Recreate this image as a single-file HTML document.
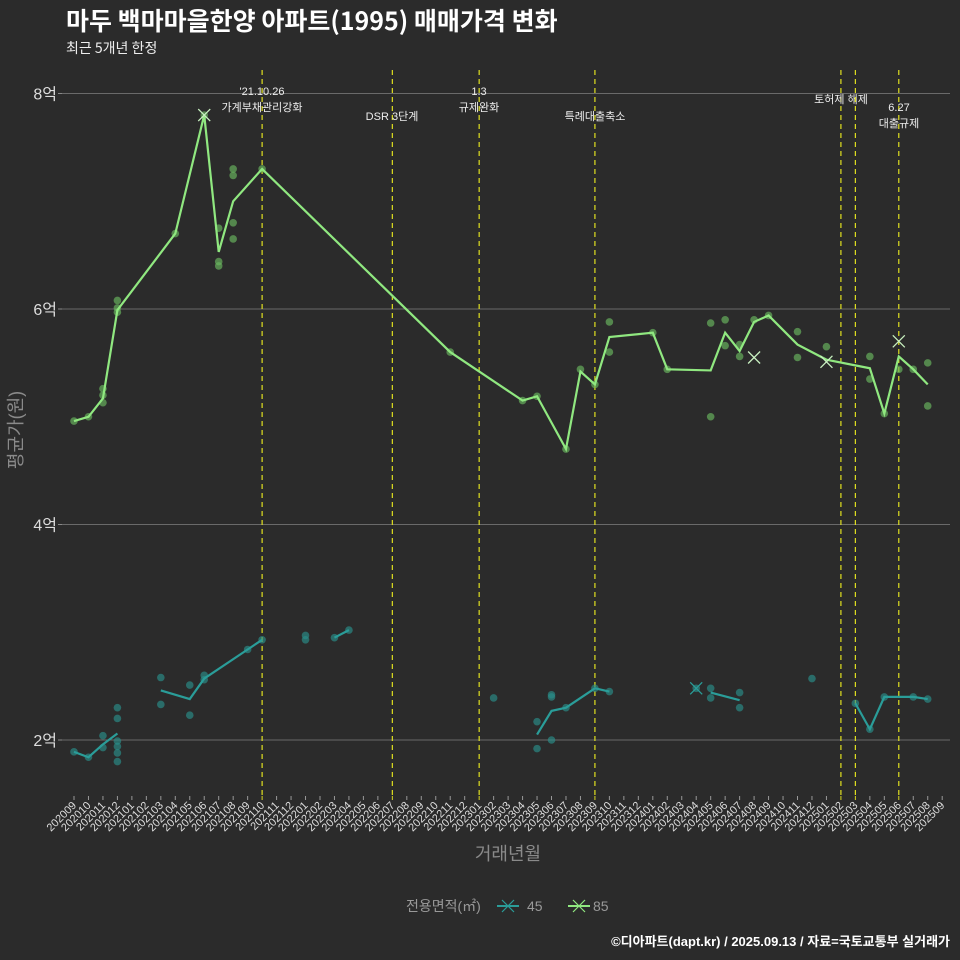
<!DOCTYPE html>
<html><head><meta charset="utf-8">
<style>
html,body{margin:0;padding:0;background:#2b2b2b;}
svg{display:block;font-family:"Liberation Sans","Noto Sans CJK KR",sans-serif;}
</style></head>
<body>
<svg id="chart" width="960" height="960" viewBox="0 0 960 960">
<rect width="960" height="960" fill="#2b2b2b"/>
<text x="66" y="30" font-size="25" font-weight="bold" fill="#ffffff" font-family="Noto Sans CJK KR, sans-serif">마두 백마마을한양 아파트(1995) 매매가격 변화</text>
<text x="66" y="53" font-size="14" fill="#eeeeee" font-family="Noto Sans CJK KR, sans-serif">최근 5개년 한정</text>
<g id="grid"></g>
<g id="vlines"></g>
<g id="marks"></g>
<g id="xaxis"></g>
<text x="508" y="860" font-size="18" fill="#8a8a8a" text-anchor="middle">거래년월</text>
<text transform="translate(22,430) rotate(-90)" font-size="18" fill="#8a8a8a" text-anchor="middle">평균가(원)</text>
<g>
<text x="406" y="911" font-size="14" fill="#999">전용면적(㎡)</text>
<g>
<line x1="497" y1="906" x2="519" y2="906" stroke="#2a9d99" stroke-width="2"/>
<path d="M502 900 L514 912 M514 900 L502 912" stroke="#2a9d99" stroke-width="1.2"/>
<text x="527" y="911" font-size="14" fill="#999">45</text></g>
<g>
<line x1="568" y1="906" x2="590" y2="906" stroke="#90e880" stroke-width="2"/>
<path d="M573 900 L585 912 M585 900 L573 912" stroke="#90e880" stroke-width="1.2"/>
<text x="593" y="911" font-size="14" fill="#999">85</text></g>
</g>
<text x="950" y="946" font-size="13" font-weight="bold" fill="#ffffff" text-anchor="end">©디아파트(dapt.kr) / 2025.09.13 / 자료=국토교통부 실거래가</text>
</svg>
<script>
const months = [];
for (let y = 2020, m = 9; !(y === 2025 && m === 10); ) { months.push(String(y) + String(m).padStart(2, '0')); m++; if (m > 12) { m = 1; y++; } }
const yTicks = [2, 4, 6, 8];
const yTickLabels = ['2억', '4억', '6억', '8억'];
// 85㎡ average line (month, value in 억)
const line85Months = ['202009','202010','202011','202012','202104','202106','202107','202108','202110','202211','202304','202305','202307','202308','202309','202310','202401','202402','202405','202406','202407','202408','202409','202411','202501','202504','202505','202506','202507','202508'];
const line85Values = [4.96,5.00,5.17,5.99,6.70,7.80,6.53,7.00,7.30,5.60,5.15,5.19,4.70,5.42,5.30,5.74,5.78,5.44,5.43,5.78,5.61,5.88,5.94,5.67,5.53,5.45,5.03,5.56,5.44,5.30];
const dots85Months = ['202009','202010','202011','202011','202011','202012','202012','202012','202104','202106','202107','202107','202107','202108','202108','202108','202108','202110','202211','202304','202305','202307','202308','202309','202310','202310','202401','202402','202405','202405','202406','202406','202407','202407','202408','202409','202411','202411','202501','202504','202504','202505','202506','202507','202508','202508'];
const dots85Values = [4.96,5.00,5.26,5.20,5.13,6.08,6.01,5.97,6.70,7.80,6.75,6.44,6.40,7.30,7.24,6.80,6.65,7.30,5.60,5.15,5.19,4.70,5.44,5.30,5.88,5.60,5.78,5.44,5.87,5.00,5.90,5.66,5.67,5.56,5.90,5.94,5.79,5.55,5.65,5.56,5.35,5.03,5.44,5.44,5.50,5.10];
const x85Months = ['202106','202408','202501','202506'];
const x85Values = [7.80,5.55,5.51,5.70];
// 45㎡ line segments
const line45Segments = [
  [['202009',1.89],['202010',1.84],['202011',1.96],['202012',2.06]],
  [['202103',2.46],['202105',2.38],['202106',2.57],['202109',2.84],['202110',2.93]],
  [['202203',2.95],['202204',3.02]],
  [['202305',2.05],['202306',2.27],['202307',2.30],['202309',2.48],['202310',2.45]],
  [['202405',2.44],['202407',2.37]],
  [['202503',2.34],['202504',2.10],['202505',2.40],['202507',2.40],['202508',2.38]]
];
const dots45Months = ['202009','202010','202011','202011','202012','202012','202012','202012','202012','202012','202103','202103','202105','202105','202106','202106','202109','202110','202201','202201','202203','202204','202302','202305','202305','202306','202306','202306','202307','202309','202310','202404','202405','202405','202407','202407','202412','202503','202504','202505','202507','202508'];
const dots45Values = [1.89,1.84,2.04,1.93,2.30,2.20,1.99,1.94,1.88,1.80,2.58,2.33,2.51,2.23,2.60,2.56,2.84,2.93,2.97,2.93,2.95,3.02,2.39,2.17,1.92,2.42,2.40,2.00,2.30,2.48,2.45,2.48,2.48,2.39,2.44,2.30,2.57,2.34,2.10,2.40,2.40,2.38];
const x45Months = ['202404'];
const x45Values = [2.48];
const eventMonths = ['202110','202207','202301','202309','202502','202503','202506'];
const eventLabels = [["'21.10.26","가계부채관리강화"],["DSR 3단계"],["1.3","규제완화"],["특례대출축소"],["토허제 해제"],[],["6.27","대출규제"]];
const eventLabelX = [262,392,479,595,841,855,899];

const NS = 'http://www.w3.org/2000/svg';
function xPos(m){ return 74 + 14.47 * months.indexOf(m); }
function yPos(v){ return 740 - (v - 2) * 107.75; }
function mk(tag, attrs, parent){ const e = document.createElementNS(NS, tag); for (const k in attrs) e.setAttribute(k, attrs[k]); parent.appendChild(e); return e; }
const grid = document.getElementById('grid'), vl = document.getElementById('vlines'), marks = document.getElementById('marks'), xa = document.getElementById('xaxis');

yTicks.forEach((t, i) => {
  const g = mk('line', {x1:62, x2:950, y1:yPos(t), y2:yPos(t), stroke:'#6a6a6a', 'stroke-width':1}, grid);
  
  
  const tk = mk('line', {x1:58, x2:62, y1:yPos(t), y2:yPos(t), stroke:'#888'}, grid);
  
  
  const tx = mk('text', {x:57, y:yPos(t)+6, 'font-size':16, fill:'#dddddd', 'text-anchor':'end'}, grid);
  tx.textContent = yTickLabels[i];
  
  
});

months.forEach(m => {
  const x = xPos(m);
  const tk = mk('line', {x1:x, x2:x, y1:796, y2:800, stroke: eventMonths.includes(m) ? '#d8d820' : '#999'}, xa);
  
  
  const t = mk('text', {x:0, y:0, 'font-size':11, fill:'#dddddd', 'text-anchor':'end', transform:`translate(${x+3},${806}) rotate(-45)`}, xa);
  t.textContent = m;
  
  
});

eventMonths.forEach((m, i) => {
  const x = xPos(m);
  const l = mk('line', {x1:x, x2:x, y1:70, y2:796, stroke:'#e0e020', 'stroke-width':1.2, 'stroke-dasharray':'5,4'}, vl);
  
  
  const lines = eventLabels[i];
  const base = lines.length === 2 ? (m === '202506' ? 111 : 95) : (m === '202502' ? 103 : 120);
  lines.forEach((s, j) => {
    const t = mk('text', {x:eventLabelX[i], y:base + j*16, 'font-size':11, fill:'#eeeeee', 'text-anchor':'middle'}, vl);
    t.textContent = s;
    
    
  });
});

function drawDots(ms, vs, color, name){
  ms.forEach((m, i) => {
    const c = mk('circle', {cx:xPos(m), cy:yPos(vs[i]), r:3.8, fill:color, 'fill-opacity':0.65}, marks);
    
    
  });
}
function drawX(ms, vs, color, name){
  ms.forEach((m, i) => {
    const x = xPos(m), y = yPos(vs[i]);
    const p = mk('path', {d:`M${x-6} ${y-6} L${x+6} ${y+6} M${x+6} ${y-6} L${x-6} ${y+6}`, stroke:color, 'stroke-width':1.3}, marks);
    
    
  });
}
drawDots(dots45Months, dots45Values, '#2a8f8a', 'dot-45');
line45Segments.forEach(seg => {
  const p = mk('polyline', {points: seg.map(d => xPos(d[0]) + ',' + yPos(d[1])).join(' '), fill:'none', stroke:'#2a9d99', 'stroke-width':2.2}, marks);
  
  
});
drawX(x45Months, x45Values, '#2a9d99', 'marker-45');
drawDots(dots85Months, dots85Values, '#6ab860', 'dot-85');
const p85 = mk('polyline', {points: line85Months.map((m, i) => xPos(m) + ',' + yPos(line85Values[i])).join(' '), fill:'none', stroke:'#90e880', 'stroke-width':2.2}, marks);


drawX(x85Months, x85Values, '#c8f0c0', 'marker-85');
</script>
</body></html>
